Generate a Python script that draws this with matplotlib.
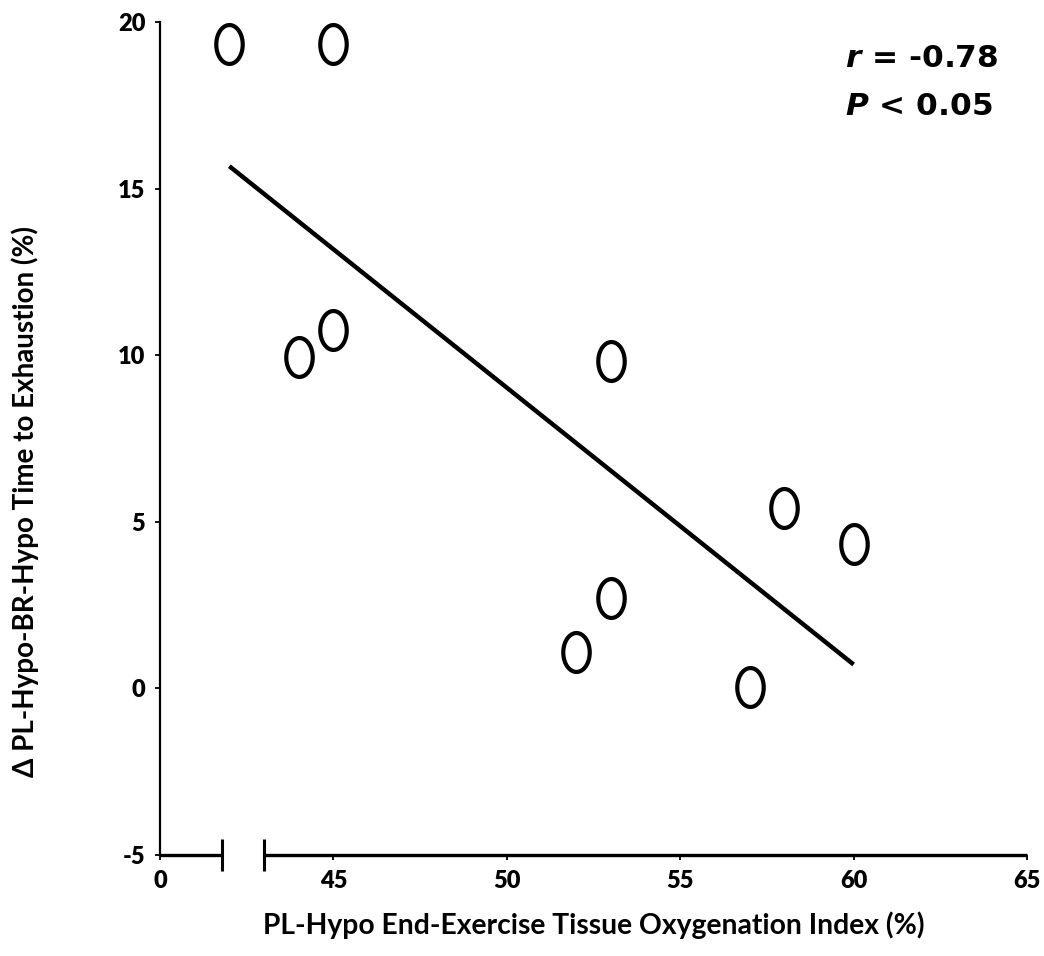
import numpy as np
import matplotlib
matplotlib.use("Agg")
import matplotlib.pyplot as plt
from matplotlib.path import Path
import matplotlib.transforms as mtransforms

# ---- data ----
tissue_oxygenation = [42, 45, 44, 45, 53, 58, 60, 53, 52, 57]
delta_time = [19.34, 19.34, 9.96, 10.77, 9.84, 5.40, 4.32, 2.70, 1.08, 0.03]
x_ticks = [40, 45, 50, 55, 60, 65]
x_tick_labels = ["0", "45", "50", "55", "60", "65"]
y_ticks = [-5, 0, 5, 10, 15, 20]
y_tick_labels = ["-5", "0", "5", "10", "15", "20"]
axis_break = [41.8, 43.0]
stats_lines = [r"$r$ = -0.78", r"$P$ < 0.05"]

plt.rcParams["mathtext.fontset"] = "custom"
plt.rcParams["mathtext.it"] = "DejaVu Sans:italic:bold"
plt.rcParams["mathtext.rm"] = "DejaVu Sans:bold"
plt.rcParams["mathtext.bf"] = "DejaVu Sans:bold"

W, H = 1044, 956
fig = plt.figure(figsize=(W/100, H/100), dpi=100)
ax = fig.add_axes([160/W, 1 - 855/H, (1027 - 160)/W, (855 - 22)/H])

# ellipse marker
t = np.linspace(0, 2*np.pi, 100)
verts = np.column_stack([0.68*np.cos(t), np.sin(t)])
ell = Path(verts, closed=True)

ax.plot(tissue_oxygenation, delta_time, linestyle="none", marker=ell,
        markersize=28, markerfacecolor="none", markeredgecolor="black",
        markeredgewidth=3.0, clip_on=False, zorder=3)

# regression line
xs = np.array(tissue_oxygenation, float)
ys = np.array(delta_time, float)
slope, intercept = np.polyfit(xs, ys, 1)
xl = np.array([xs.min(), xs.max()])
ax.plot(xl, slope*xl + intercept, color="black", lw=3.2, solid_capstyle="butt", zorder=2)

ax.set_xlim(40, 65)
ax.set_ylim(-5, 20)
tick_font = dict(fontfamily="Lato", fontweight="heavy", fontsize=17)
ax.set_xticks(x_ticks)
ax.set_xticklabels(x_tick_labels, **tick_font)
ax.set_yticks(y_ticks)
ax.set_yticklabels(y_tick_labels, **tick_font)

for s in ["top", "right", "bottom"]:
    ax.spines[s].set_visible(False)
ax.spines["left"].set_linewidth(1.6)

ax.tick_params(axis="both", length=3.5, width=1.3, direction="out", color="black")
ax.tick_params(axis="x", pad=7)
ax.tick_params(axis="y", pad=7)

# bottom axis with break
trans = mtransforms.blended_transform_factory(ax.transData, ax.transAxes)
ax.plot([40, axis_break[0]], [0, 0], transform=trans, color="black", lw=2.4,
        clip_on=False, solid_capstyle="butt", zorder=4)
ax.plot([axis_break[1], 65], [0, 0], transform=trans, color="black", lw=2.4,
        clip_on=False, solid_capstyle="butt", zorder=4)
for xb in axis_break:
    ax.plot([xb, xb], [-0.019, 0.019], transform=trans, color="black", lw=2.2,
            clip_on=False, solid_capstyle="butt", zorder=4)

ax.set_xlabel("PL-Hypo End-Exercise Tissue Oxygenation Index (%)",
              fontfamily="Lato", fontweight="bold", fontsize=20.3)
ax.xaxis.set_label_coords(0.5, -0.068)
ax.set_ylabel("\u0394 PL-Hypo-BR-Hypo Time to Exhaustion (%)",
              fontfamily=["Lato", "DejaVu Sans"], fontweight="bold", fontsize=20)
ax.yaxis.set_label_coords(-0.139, 0.424)

fig.text(845/W, 1 - 67/H, stats_lines[0], fontfamily="DejaVu Sans",
         fontweight="bold", fontsize=22.5, va="baseline", ha="left")
fig.text(845/W, 1 - 115/H, stats_lines[1], fontfamily="DejaVu Sans",
         fontweight="bold", fontsize=22.5, va="baseline", ha="left")

fig.savefig("out.png", dpi=100)
